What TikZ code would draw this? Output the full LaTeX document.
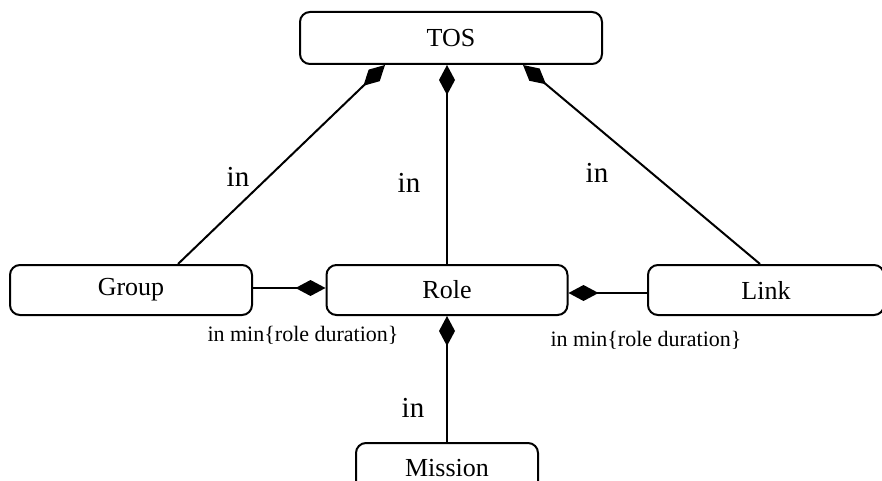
\documentclass[tikz,border=0pt]{standalone}
\usepackage{fontspec}
\setmainfont{Liberation Serif}
\usetikzlibrary{arrows.meta}
\tikzset{
  box/.style={draw, line width=2pt, rounded corners=10pt, inner sep=0pt, minimum height=50pt, font=\fontsize{26}{28}\selectfont},
  conn/.style={line width=2pt, -{Diamond[length=30pt,width=16pt]}},
  inlabel/.style={font=\fontsize{29}{31}\selectfont},
  smalllabel/.style={font=\fontsize{22}{24}\selectfont}
}
\begin{document}
\begin{tikzpicture}[x=1pt,y=-1pt]
\useasboundingbox (0,0) rectangle (882,481);
\node[box, minimum width=302pt, minimum height=52pt] (tos) at (451,38) {TOS};
\node[box, minimum width=242pt] (grp) at (131,290) {Group};
\node[box, minimum width=241pt] (role) at (447,290) {Role};
\node[box, minimum width=236pt] (link) at (766,290) {Link};
\node[box, minimum width=182pt] (mis) at (447,468) {Mission};

\draw[conn] ([xshift=47pt]grp.north) -- ([xshift=-66pt]tos.south);
\draw[conn] (role.north) -- (role.north |- tos.south);
\draw[conn] ([xshift=-6pt]link.north) -- ([xshift=72pt]tos.south);
\draw[conn] ([yshift=2pt]grp.east) -- ([yshift=2pt]role.west);
\draw[conn] ([yshift=-3pt]link.west) -- ([yshift=-3pt]role.east);
\draw[conn] (mis.north) -- (role.south);

\node[inlabel] (l1) at (238,177) {in};
\node[inlabel] (l2) at (409,183) {in};
\node[inlabel] (l3) at (597,173) {in};
\node[inlabel] (l4) at (413,408) {in};
\node[smalllabel] (s1) at (303,335) {in min\{role duration\}};
\node[smalllabel] (s2) at (646,340) {in min\{role duration\}};
\end{tikzpicture}
\end{document}
